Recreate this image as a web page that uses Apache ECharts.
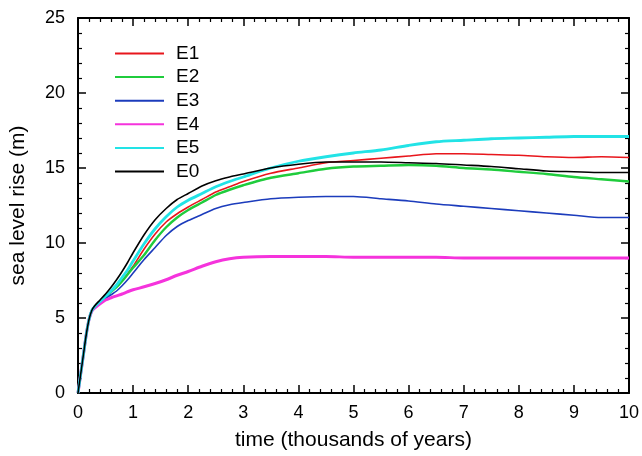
<!DOCTYPE html>
<html>
<head>
<meta charset="utf-8">
<script src="https://cdn.jsdelivr.net/npm/echarts@6/dist/echarts.min.js"></script>
<style>
  html, body { margin: 0; padding: 0; background: #fff; }
  #chart { width: 642px; height: 456px; }
</style>
</head>
<body>
<div id="chart"></div>
<script>
// time in thousands of years
const times = [0, 0.05, 0.1, 0.15, 0.2, 0.25, 0.3, 0.4, 0.5, 0.6, 0.7, 0.8, 0.9, 1.0,
  1.2, 1.4, 1.6, 1.8, 2.0, 2.25, 2.5, 2.75, 3.0, 3.5, 4.0, 4.5, 5.0, 5.5, 6.0, 6.5,
  7.0, 7.5, 8.0, 8.5, 9.0, 9.5, 10];

// sea level rise (m) for each experiment
const E1 = [0, 1.3, 2.6, 3.9, 4.9, 5.5, 5.75, 6.1, 6.45, 6.8, 7.1, 7.5, 7.95, 8.45,
  9.6, 10.6, 11.4, 11.95, 12.4, 12.9, 13.4, 13.75, 14.1, 14.65, 15.0, 15.35, 15.5, 15.65, 15.8, 15.95,
  15.95, 15.9, 15.85, 15.75, 15.7, 15.75, 15.7];
const E2 = [0, 1.3, 2.6, 3.9, 4.9, 5.5, 5.75, 6.1, 6.4, 6.75, 7.05, 7.45, 7.9, 8.35,
  9.2, 10.2, 11.05, 11.7, 12.2, 12.7, 13.2, 13.55, 13.85, 14.35, 14.65, 14.95, 15.1, 15.15, 15.2, 15.15,
  15.0, 14.9, 14.75, 14.6, 14.4, 14.25, 14.1];
const E3 = [0, 1.3, 2.6, 3.9, 4.9, 5.5, 5.75, 6.05, 6.3, 6.55, 6.8, 7.15, 7.55, 8.0,
  8.9, 9.7, 10.5, 11.1, 11.5, 11.9, 12.3, 12.55, 12.7, 12.95, 13.05, 13.1, 13.1, 12.95, 12.8, 12.6,
  12.45, 12.3, 12.15, 12.0, 11.85, 11.7, 11.7];
const E4 = [0, 1.3, 2.6, 3.9, 4.9, 5.45, 5.65, 5.95, 6.2, 6.35, 6.48, 6.6, 6.75, 6.88,
  7.08, 7.3, 7.55, 7.85, 8.1, 8.45, 8.75, 8.95, 9.05, 9.1, 9.1, 9.1, 9.05, 9.05, 9.05, 9.05,
  9.0, 9.0, 9.0, 9.0, 9.0, 9.0, 9.0];
const E5 = [0, 1.3, 2.6, 3.9, 4.9, 5.5, 5.75, 6.1, 6.45, 6.8, 7.2, 7.7, 8.2, 8.8,
  9.95, 10.95, 11.75, 12.4, 12.85, 13.3, 13.75, 14.1, 14.4, 15.0, 15.45, 15.75, 16.0, 16.2, 16.5, 16.75,
  16.85, 16.95, 17.0, 17.05, 17.1, 17.1, 17.1];
const E0 = [0, 1.3, 2.6, 3.9, 4.9, 5.5, 5.8, 6.2, 6.6, 7.05, 7.55, 8.1, 8.7, 9.35,
  10.55, 11.55, 12.3, 12.9, 13.3, 13.8, 14.15, 14.4, 14.6, 15.0, 15.25, 15.4, 15.4, 15.4, 15.35, 15.3,
  15.2, 15.1, 14.95, 14.8, 14.75, 14.7, 14.7];

const xTicks = [0, 1, 2, 3, 4, 5, 6, 7, 8, 9, 10];
const yTicks = [0, 5, 10, 15, 20, 25];

const runs = [
  { name: 'E1', values: E1, color: '#e8161c', width: 1.6 },
  { name: 'E2', values: E2, color: '#1fcc3c', width: 2.4 },
  { name: 'E3', values: E3, color: '#1c3cbc', width: 1.6 },
  { name: 'E4', values: E4, color: '#f533dc', width: 3 },
  { name: 'E5', values: E5, color: '#22e3e6', width: 2.8 },
  { name: 'E0', values: E0, color: '#000000', width: 1.6 }
];

const font = 'Liberation Sans, Arial, Helvetica, sans-serif';

function axisCommon(showLabel) {
  return {
    type: 'value',
    axisLine: { show: true, onZero: false, lineStyle: { color: '#000', width: 2 } },
    axisTick: { show: true, inside: true, length: 8, lineStyle: { color: '#000', width: 1.5 } },
    minorTick: { show: true, splitNumber: 5, length: 4, lineStyle: { color: '#000', width: 1.2 } },
    splitLine: { show: false },
    axisLabel: { show: showLabel, color: '#000', fontSize: 18, fontFamily: font }
  };
}

const chart = echarts.init(document.getElementById('chart'), null, { renderer: 'canvas' });

chart.setOption({
  animation: false,
  backgroundColor: '#fff',
  grid: { left: 76, right: 12, top: 18, bottom: 63 },
  legend: {
    orient: 'vertical',
    left: 114,
    top: 44,
    padding: 0,
    itemWidth: 49,
    itemHeight: 16,
    itemGap: 4.6,
    // line-only keys: the marker symbol is made invisible
    itemStyle: { opacity: 0 },
    textStyle: { color: '#000', fontSize: 19, lineHeight: 16, fontFamily: font, padding: [0, 0, 0, 7] },
    data: runs.map(r => r.name)
  },
  xAxis: [
    Object.assign(axisCommon(true), {
      position: 'bottom', min: xTicks[0], max: xTicks[xTicks.length - 1], interval: 1,
      name: 'time (thousands of years)', nameLocation: 'middle', nameGap: 37,
      nameTextStyle: { color: '#000', fontSize: 21, fontFamily: font },
      axisLabel: { show: true, color: '#000', fontSize: 18, fontFamily: font, margin: 11 }
    }),
    Object.assign(axisCommon(false), {
      position: 'top', min: xTicks[0], max: xTicks[xTicks.length - 1], interval: 1
    })
  ],
  yAxis: [
    Object.assign(axisCommon(true), {
      position: 'left', min: yTicks[0], max: yTicks[yTicks.length - 1], interval: 5,
      name: 'sea level rise (m)', nameLocation: 'middle', nameGap: 49,
      nameTextStyle: { color: '#000', fontSize: 21, fontFamily: font },
      axisLabel: { show: true, color: '#000', fontSize: 18, fontFamily: font, margin: 13 }
    }),
    Object.assign(axisCommon(false), {
      position: 'right', min: yTicks[0], max: yTicks[yTicks.length - 1], interval: 5
    })
  ],
  series: runs.map(r => ({
    name: r.name,
    type: 'line',
    xAxisIndex: 0,
    yAxisIndex: 0,
    data: times.map((t, i) => [t, r.values[i]]),
    showSymbol: false,
    symbol: 'none',
    smooth: 0.25,
    color: r.color,
    lineStyle: { color: r.color, width: r.width },
    itemStyle: { color: r.color }
  }))
});
</script>
</body>
</html>
